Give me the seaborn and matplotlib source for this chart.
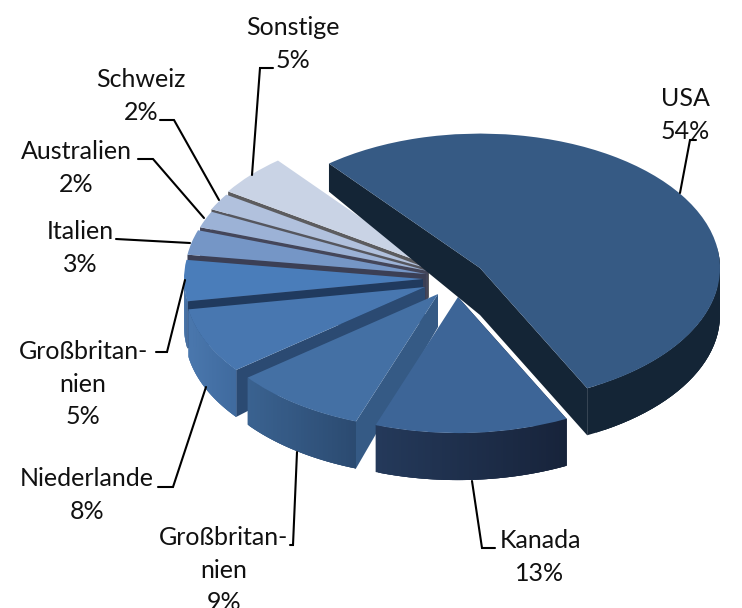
import numpy as np
import seaborn as sns
import matplotlib
matplotlib.use("Agg")
import matplotlib.pyplot as plt

sns.set_theme(style="white")
plt.rcParams["font.family"] = ["Lato", "DejaVu Sans"]

# data
categories = ["USA", "Kanada", "Großbritan-\nnien", "Niederlande", "Großbritan-\nnien",
              "Italien", "Australien", "Schweiz", "Sonstige"]
values = [54, 13, 9, 8, 5, 3, 2, 2, 5]
label_values = ["54%", "13%", "9%", "8%", "5%", "3%", "2%", "2%", "5%"]

# styles
top_colors = ["#365a84", "#3d6597", "#4470a4", "#4877b0", "#4a7dba",
              "#7596c6", "#9cb2d6", "#b1c1dd", "#c9d3e5"]
cut_colors = ["#142536", "#17233a", "#355a85", "#2b4a72", "#203a5e",
              "#3b3f55", "#44465a", "#55565e", "#5c5c5f"]
rim_left = ["#142536", "#24395a", "#3a6290", "#4a77ad", "#4a77ad",
            "#3b3f55", "#44465a", "#55565e", "#5c5c5f"]
rim_right = ["#142536", "#17233a", "#2b4a70", "#3f6a9e", "#3f6a9e",
             "#3b3f55", "#44465a", "#55565e", "#5c5c5f"]
centers_px = [(480, 268), (458, 297), (438, 294), (425, 287), (423, 279),
              (426, 274), (428, 271), (428, 268.5), (429, 265)]
radii = [240, 243, 242, 240, 239, 241, 241, 241, 240]
apex_depth = [47, 33, 33, 33, 33, 33, 33, 33, 33]
draw_order = [8, 7, 6, 5, 4, 3, 2, 0, 1]
squash = 0.56
W, H = 742, 608
start_angle = 129

fig = plt.figure(figsize=(W / 100, H / 100), dpi=100)
ax = fig.add_axes([0, 0, 1, 1])


def to_data(px, py):
    return np.asarray(px, float), (H - np.asarray(py, float)) / squash


def to_px(x, y):
    return x, H - y * squash


wedges, _ = ax.pie(values, startangle=start_angle, counterclock=False, radius=240,
                   colors=top_colors, wedgeprops=dict(linewidth=0))
ax.set_aspect("auto")
ax.set_xlim(0, W)
ax.set_ylim(0, H / squash)


def depth_at(i, py, frac):
    rim = 47.0
    if i == 0:
        return np.interp(py, [163, 250], [28, 47])
    return apex_depth[i] + (rim - apex_depth[i]) * frac


for z, i in enumerate(draw_order):
    w = wedges[i]
    cx, cy = to_data(*centers_px[i])
    r = radii[i]
    w.set_center((float(cx), float(cy)))
    w.set_radius(r)
    base = 10 + z * 10
    w.set_zorder(base + 5)
    t = np.radians(np.linspace(w.theta1, w.theta2, 81))
    xs, ys = cx + r * np.cos(t), cy + r * np.sin(t)
    _, pys = to_px(xs, ys)
    drops = np.array([depth_at(i, p, 1.0) for p in pys]) / squash
    d_apex = depth_at(i, centers_px[i][1], 0.0) / squash
    # radial cut faces: pie runs clockwise, theta2 is the edge where the slice starts
    edges = (0, -1) if i == 0 else (-1,)
    for k in edges:
        ax.fill([cx, xs[k], xs[k], cx],
                [cy, ys[k], ys[k] - drops[k], cy - d_apex],
                color=cut_colors[i], lw=0, zorder=base)
    # rim with left-right shading, overlapping steps so no seams appear
    pal = sns.blend_palette([rim_left[i], rim_right[i]], 81)
    x_frac = (xs - xs.min()) / max(xs.max() - xs.min(), 1e-6)
    n = len(t)
    for k in range(n - 1):
        if np.sin(t[k]) > 0.03 and np.sin(t[k + 1]) > 0.03:
            continue
        e = min(k + 3, n - 1)
        c = pal[int(80 * x_frac[k])]
        ax.fill(np.r_[xs[k:e + 1], xs[k:e + 1][::-1]],
                np.r_[ys[k:e + 1], (ys - drops)[k:e + 1][::-1]],
                color=c, lw=0, zorder=base + 1 + (k / n))

# labels
label_px = [(685, 115), (540, 557), (224, 570), (87, 495), (83, 384),
            (80, 248), (76, 168), (141, 96), (293, 44)]
leaders = [
    [(696, 140), (690, 140), (680, 193)],
    [(495, 548), (482, 548), (472, 481)],
    [(290, 545), (293, 545), (297, 452)],
    [(158, 487), (173, 487), (206, 387)],
    [(156, 352), (167, 352), (185, 280)],
    [(116, 239), (190, 243)],
    [(138, 159), (153, 159), (204, 218)],
    [(160, 120), (174, 120), (219, 200)],
    [(273, 68), (260, 68), (252, 175)],
]
for name, val, (lx, ly), line in zip(categories, label_values, label_px, leaders):
    x, y = to_data(lx, ly)
    ax.text(float(x), float(y), f"{name}\n{val}", ha="center", va="center",
            fontsize=18, color="#111111", linespacing=1.48, zorder=200, clip_on=False)
    pts = np.array(line, float)
    lxs, lys = to_data(pts[:, 0], pts[:, 1])
    ax.plot(lxs, lys, color="black", lw=1.5, zorder=150, solid_joinstyle="miter")

fig.savefig("out.png", dpi=100)
